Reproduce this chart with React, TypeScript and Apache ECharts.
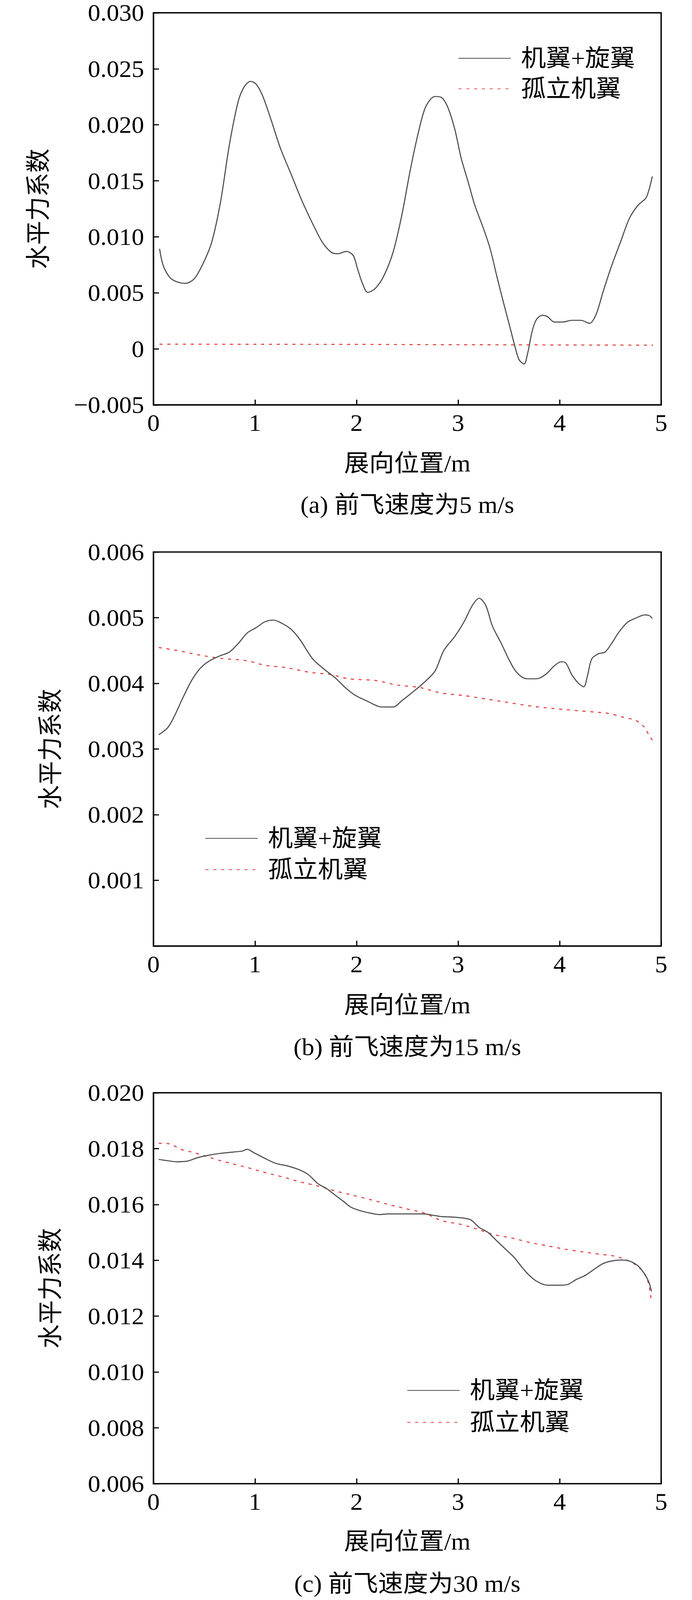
import React, { useEffect, useRef } from "react";
import * as echarts from "echarts";

// ---------- data ----------
const seriesNames = ["机翼+旋翼", "孤立机翼"];
const captions = ["(a) 前飞速度为5 m/s", "(b) 前飞速度为15 m/s", "(c) 前飞速度为30 m/s"];
const xTicks = [0, 1, 2, 3, 4, 5];

// (a) 5 m/s
const aSolidX = [0.06, 0.096, 0.16, 0.226, 0.313, 0.4, 0.487, 0.574, 0.661, 0.748, 0.836, 0.9, 0.957, 1.01, 1.075, 1.162, 1.249, 1.358, 1.466, 1.575, 1.662, 1.749, 1.815, 1.9, 1.967, 2.01, 2.054, 2.11, 2.185, 2.27, 2.36, 2.446, 2.533, 2.62, 2.685, 2.772, 2.837, 2.9, 2.968, 3.03, 3.098, 3.164, 3.25, 3.316, 3.38, 3.447, 3.512, 3.555, 3.6, 3.65, 3.686, 3.73, 3.773, 3.83, 3.88, 3.947, 4.034, 4.12, 4.21, 4.295, 4.36, 4.426, 4.513, 4.6, 4.687, 4.774, 4.848, 4.88, 4.913];
const aSolidY = [0.00894, 0.00744, 0.00639, 0.006, 0.00585, 0.00624, 0.00759, 0.00954, 0.01314, 0.01824, 0.02214, 0.02349, 0.02388, 0.02364, 0.02259, 0.02034, 0.01794, 0.01554, 0.01314, 0.01104, 0.00954, 0.00864, 0.00849, 0.0087, 0.00834, 0.00714, 0.00594, 0.00504, 0.0054, 0.00654, 0.00864, 0.01194, 0.01614, 0.01974, 0.02169, 0.02253, 0.02244, 0.02154, 0.01959, 0.01704, 0.01494, 0.01284, 0.01074, 0.00894, 0.00654, 0.00414, 0.00189, 0.00039, -0.00096, -0.00135, -0.00036, 0.00159, 0.00264, 0.003, 0.00288, 0.0024, 0.0024, 0.00255, 0.00255, 0.00228, 0.00309, 0.00504, 0.00744, 0.00954, 0.01164, 0.01284, 0.01344, 0.01419, 0.01539];
const aDashX = [0.06, 1.0, 2.0, 3.0, 4.0, 4.92];
const aDashY = [0.00042, 0.00041, 0.0004, 0.00037, 0.00035, 0.00033];

// (b) 15 m/s
const bSolidX = [0.052, 0.139, 0.205, 0.292, 0.379, 0.466, 0.553, 0.661, 0.748, 0.836, 0.923, 1.01, 1.097, 1.184, 1.27, 1.358, 1.445, 1.51, 1.575, 1.684, 1.793, 1.9, 1.99, 2.097, 2.25, 2.36, 2.446, 2.554, 2.663, 2.772, 2.86, 2.968, 3.055, 3.142, 3.207, 3.272, 3.338, 3.425, 3.49, 3.555, 3.62, 3.686, 3.773, 3.86, 3.947, 4.012, 4.056, 4.12, 4.186, 4.238, 4.273, 4.316, 4.382, 4.447, 4.513, 4.578, 4.665, 4.752, 4.839, 4.882, 4.913];
const bSolidY = [0.003217, 0.003323, 0.003497, 0.003788, 0.004053, 0.004238, 0.004344, 0.004423, 0.004476, 0.004609, 0.004767, 0.004847, 0.004937, 0.004963, 0.00491, 0.00482, 0.004662, 0.004503, 0.00436, 0.004212, 0.004079, 0.00392, 0.003815, 0.003735, 0.00364, 0.00364, 0.003735, 0.003868, 0.00401, 0.004185, 0.004503, 0.004715, 0.004926, 0.00519, 0.005296, 0.00519, 0.004873, 0.004609, 0.004397, 0.004212, 0.004106, 0.004069, 0.004069, 0.004132, 0.004265, 0.004328, 0.004318, 0.004132, 0.004, 0.003947, 0.004106, 0.004371, 0.00445, 0.004476, 0.004609, 0.004767, 0.004926, 0.004995, 0.005042, 0.005032, 0.00499];
const bDashX = [0.052, 0.226, 0.444, 0.661, 0.923, 1.097, 1.314, 1.532, 1.749, 1.923, 2.185, 2.402, 2.62, 2.837, 3.055, 3.272, 3.49, 3.708, 3.925, 4.143, 4.36, 4.49, 4.621, 4.752, 4.83, 4.882, 4.917];
const bDashY = [0.004545, 0.004503, 0.004434, 0.004381, 0.004344, 0.004275, 0.004238, 0.00417, 0.004133, 0.004069, 0.004043, 0.003974, 0.003937, 0.003852, 0.003815, 0.003762, 0.003709, 0.003656, 0.003619, 0.003588, 0.003561, 0.00354, 0.003487, 0.003434, 0.003339, 0.003207, 0.003127];

// (c) 30 m/s
const cSolidX = [0.052, 0.139, 0.226, 0.335, 0.444, 0.553, 0.661, 0.792, 0.879, 0.923, 0.988, 1.097, 1.205, 1.314, 1.445, 1.532, 1.619, 1.706, 1.793, 1.88, 1.945, 2.032, 2.141, 2.228, 2.315, 2.489, 2.663, 2.772, 2.837, 2.968, 3.12, 3.207, 3.294, 3.381, 3.468, 3.555, 3.62, 3.686, 3.773, 3.882, 3.99, 4.077, 4.164, 4.251, 4.339, 4.426, 4.513, 4.6, 4.687, 4.774, 4.839, 4.882, 4.904];
const cSolidY = [0.017614, 0.017566, 0.01753, 0.017554, 0.017686, 0.01777, 0.017831, 0.017879, 0.017915, 0.017976, 0.017855, 0.01765, 0.01747, 0.017385, 0.017229, 0.017048, 0.016747, 0.016566, 0.016325, 0.016084, 0.015903, 0.015783, 0.015686, 0.015638, 0.015662, 0.015662, 0.015662, 0.015602, 0.015566, 0.015542, 0.015457, 0.01518, 0.015, 0.014698, 0.014397, 0.014096, 0.013795, 0.013517, 0.013252, 0.013108, 0.013108, 0.013132, 0.013313, 0.013457, 0.013674, 0.013879, 0.013975, 0.014011, 0.013975, 0.013795, 0.013494, 0.013192, 0.01289];
const cDashX = [0.052, 0.161, 0.27, 0.4, 0.531, 0.661, 0.792, 0.923, 1.097, 1.27, 1.445, 1.619, 1.793, 1.967, 2.141, 2.315, 2.489, 2.663, 2.837, 3.011, 3.185, 3.359, 3.533, 3.708, 3.882, 4.056, 4.23, 4.404, 4.534, 4.643, 4.752, 4.83, 4.874, 4.904];
const cDashY = [0.018193, 0.018169, 0.017976, 0.017855, 0.01771, 0.017566, 0.017445, 0.017325, 0.017144, 0.016988, 0.016807, 0.016662, 0.016481, 0.016325, 0.016168, 0.015999, 0.015843, 0.015698, 0.015421, 0.0153, 0.01512, 0.014915, 0.014794, 0.014638, 0.014517, 0.014397, 0.0143, 0.014216, 0.014156, 0.014035, 0.01383, 0.013553, 0.013192, 0.012529];

const yRanges = [
  { min: -0.005, max: 0.03, interval: 0.005 },
  { min: 0, max: 0.006, interval: 0.001 },
  { min: 0.006, max: 0.02, interval: 0.002 },
];

// ---------- layout / style ----------
const FONT = "'Liberation Serif', 'Times New Roman', 'Noto Sans CJK SC', serif";
const W = 1772;
const H = 4252;
const grids = [
  { left: 393, top: 34, width: 1300, height: 1042 },
  { left: 393, top: 1467, width: 1300, height: 1047 },
  { left: 393, top: 2904, width: 1300, height: 1039 },
];
const yNameGap = [294, 263, 263];
const xNameGap = [156, 157, 154];
const captionY = [1342, 2782, 4209];
const legendPos = [
  { left: 1173, top: 123, gap: 17 },
  { left: 525, top: 2196, gap: 19 },
  { left: 1042, top: 3663, gap: 21 },
];
const SOLID = "#4d4d4d";
const RED = "#e2403f";

const pairs = (xs: number[], ys: number[]) => xs.map((x, i) => [x, ys[i]]);

const fmtY = (idx: number) => (v: number) => {
  if (Math.abs(v) < 1e-9) return idx === 1 ? "" : "0";
  if (v < 0) return "\u2212" + Math.abs(v).toFixed(3);
  return v.toFixed(3);
};

export default function App() {
  const ref = useRef<HTMLDivElement>(null);
  useEffect(() => {
    document.body.style.margin = "0";
    const el = ref.current;
    if (!el) return;
    // the visible viewport can be shorter than the requested window height: fit the figure into it
    const vh = window.innerHeight || H;
    const k = Math.min(1, vh / H);
    el.style.transformOrigin = "0 0";
    el.style.transform = `scaleY(${k})`;
    const chart = echarts.init(el, undefined, { renderer: "svg", width: W, height: H });
    const data = [
      [pairs(aSolidX, aSolidY), pairs(aDashX, aDashY)],
      [pairs(bSolidX, bSolidY), pairs(bDashX, bDashY)],
      [pairs(cSolidX, cSolidY), pairs(cDashX, cDashY)],
    ];
    const series: any[] = [];
    data.forEach((d, i) => {
      series.push({
        type: "line",
        name: seriesNames[0],
        xAxisIndex: i,
        yAxisIndex: i,
        data: d[0],
        symbol: "none",
        smooth: 0.3,
        lineStyle: { color: SOLID, width: 2.8, type: "solid" },
        itemStyle: { color: SOLID },
        z: 3,
      });
      series.push({
        type: "line",
        name: seriesNames[1],
        xAxisIndex: i,
        yAxisIndex: i,
        data: d[1],
        symbol: "none",
        smooth: 0.3,
        lineStyle: { color: RED, width: 2.8, type: [8, 12] },
        itemStyle: { color: RED },
        z: 2,
      });
    });
    chart.setOption({
      animation: false,
      backgroundColor: "#ffffff",
      grid: grids.map((g) => ({
        ...g,
        show: true,
        borderColor: "#000",
        borderWidth: 3.5,
        backgroundColor: "transparent",
        containLabel: false,
      })),
      xAxis: grids.map((_, i) => ({
        type: "value",
        gridIndex: i,
        min: 0,
        max: 5,
        interval: 1,
        name: "展向位置/m",
        nameLocation: "middle",
        nameGap: xNameGap[i],
        nameTextStyle: { fontFamily: FONT, fontSize: 64, lineHeight: 58, color: "#000", verticalAlign: "middle" },
        axisLine: { show: true, onZero: false, lineStyle: { color: "#000", width: 3.5 } },
        axisTick: { show: true, inside: true, length: 14, lineStyle: { color: "#000", width: 3 } },
        axisLabel: {
          fontFamily: FONT,
          fontSize: 64,
          lineHeight: 56,
          color: "#000",
          margin: 20,
          formatter: (v: number) => (xTicks.includes(Math.round(v)) ? String(Math.round(v)) : ""),
        },
        splitLine: { show: false },
      })),
      yAxis: grids.map((_, i) => ({
        type: "value",
        gridIndex: i,
        min: yRanges[i].min,
        max: yRanges[i].max,
        interval: yRanges[i].interval,
        name: "水平力系数",
        nameLocation: "middle",
        nameGap: yNameGap[i],
        nameRotate: 90,
        nameTextStyle: { fontFamily: FONT, fontSize: 64, color: "#000", verticalAlign: "middle" },
        axisLine: { show: true, onZero: false, lineStyle: { color: "#000", width: 3.5 } },
        axisTick: { show: true, inside: true, length: 14, lineStyle: { color: "#000", width: 3 } },
        axisLabel: {
          fontFamily: FONT,
          fontSize: 64,
          lineHeight: 50,
          color: "#000",
          margin: 24,
          formatter: fmtY(i),
        },
        splitLine: { show: false },
      })),
      legend: legendPos.map((p) => ({
        left: p.left,
        top: p.top,
        orient: "vertical",
        data: seriesNames,
        itemWidth: 134,
        itemHeight: 20,
        itemGap: p.gap,
        selectedMode: false,
        padding: 0,
        itemStyle: { opacity: 0, borderWidth: 0 },
        textStyle: {
          fontFamily: FONT,
          fontSize: 64,
          lineHeight: 64,
          color: "#000",
          padding: [0, 0, 0, 21],
        },
      })),
      graphic: captions.map((c, i) => ({
        type: "text",
        x: 1043,
        y: captionY[i],
        style: {
          text: c,
          fontFamily: FONT,
          fontSize: 64,
          lineHeight: 58,
          fill: "#000",
          align: "center",
          verticalAlign: "middle",
        },
      })),
      series,
    });
    return () => chart.dispose();
  }, []);
  return <div ref={ref} style={{ width: W, height: H, background: "#fff" }} />;
}
